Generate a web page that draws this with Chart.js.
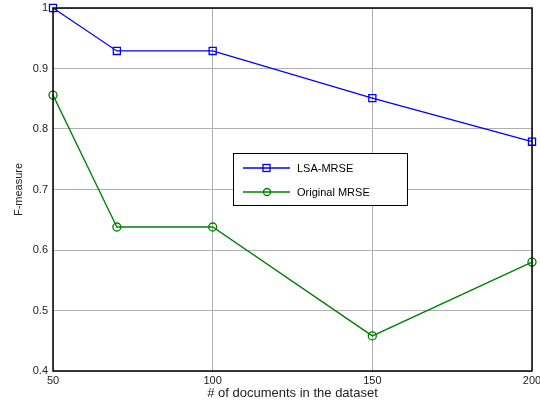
<!DOCTYPE html>
<html lang="en">
<head>
  <meta charset="UTF-8" />
  <title>F-measure vs documents</title>
  <script src="https://cdn.jsdelivr.net/npm/chart.js@4.4.0/dist/chart.umd.min.js"></script>
  <style>
    body { margin: 0; background: #fff; }
    #wrap { width: 540px; height: 403px; }
  </style>
</head>
<body>
  <div id="wrap"><canvas id="c"></canvas></div>
  <script>
    const docCounts = [50, 70, 100, 150, 200];
    const lsaMrse = [1.0, 0.929, 0.929, 0.851, 0.779];
    const originalMrse = [0.856, 0.638, 0.638, 0.458, 0.580];
    const xTicks = [50, 100, 150, 200];
    const yTicks = [0.4, 0.5, 0.6, 0.7, 0.8, 0.9, 1];

    const font = { family: 'Liberation Sans, Arial, sans-serif', size: 11 };

    // frame around plot + legend box inside the axes
    const framePlugin = {
      id: 'frame',
      afterDraw(chart) {
        const a = chart.chartArea;
        const ctx = chart.ctx;
        ctx.save();
        ctx.strokeStyle = '#000';
        ctx.lineWidth = 1.5;
        ctx.strokeRect(a.left, a.top, a.right - a.left, a.bottom - a.top);

        const lx = a.left + 180, ly = a.top + 145, lw = 174, lh = 52;
        ctx.fillStyle = '#fff';
        ctx.fillRect(lx, ly, lw, lh);
        ctx.lineWidth = 1;
        ctx.strokeRect(lx + 0.5, ly + 0.5, lw, lh);

        const rows = chart.data.datasets;
        ctx.font = font.size + 'px ' + font.family;
        ctx.textBaseline = 'middle';
        rows.forEach((ds, i) => {
          const y = ly + 15 + i * 24;
          ctx.strokeStyle = ds.borderColor;
          ctx.lineWidth = 1.3;
          ctx.beginPath();
          ctx.moveTo(lx + 10, y);
          ctx.lineTo(lx + 57, y);
          ctx.stroke();
          if (ds.pointStyle === 'rect') {
            ctx.strokeRect(lx + 30, y - 3.5, 7, 7);
          } else {
            ctx.beginPath();
            ctx.arc(lx + 34, y, 3.5, 0, Math.PI * 2);
            ctx.stroke();
          }
          ctx.fillStyle = '#000';
          ctx.fillText(ds.label, lx + 64, y + 1);
        });
        ctx.restore();
      }
    };

    new Chart(document.getElementById('c'), {
      type: 'line',
      data: {
        datasets: [
          {
            label: 'LSA-MRSE',
            data: docCounts.map((x, i) => ({ x, y: lsaMrse[i] })),
            borderColor: '#0000ff',
            backgroundColor: 'rgba(0,0,0,0)',
            borderWidth: 1.3,
            pointStyle: 'rect',
            pointRadius: 5,
            pointBorderWidth: 1.3,
            tension: 0,
            clip: false
          },
          {
            label: 'Original MRSE',
            data: docCounts.map((x, i) => ({ x, y: originalMrse[i] })),
            borderColor: '#008000',
            backgroundColor: 'rgba(0,0,0,0)',
            borderWidth: 1.3,
            pointStyle: 'circle',
            pointRadius: 4,
            pointBorderWidth: 1.3,
            tension: 0,
            clip: false
          }
        ]
      },
      options: {
        responsive: true,
        maintainAspectRatio: false,
        animation: false,
        layout: { padding: { top: 8, right: 8, left: 0, bottom: 0 } },
        plugins: { legend: { display: false }, tooltip: { enabled: false } },
        scales: {
          x: {
            type: 'linear',
            min: 50, max: 200,
            afterBuildTicks(s) { s.ticks = xTicks.map(v => ({ value: v })); },
            afterFit(s) { s.height = 32; s.paddingLeft = 0; s.paddingRight = 0; },
            grid: { color: '#b0b0b0', drawTicks: false },
            border: { display: false },
            ticks: { color: '#222', font, padding: 3, maxRotation: 0 },
            title: { display: true, text: '# of documents in the dataset', color: '#222',
                     font: { family: font.family, size: 13 }, padding: { top: 0, bottom: 2 } }
          },
          y: {
            min: 0.4, max: 1,
            afterBuildTicks(s) { s.ticks = yTicks.map(v => ({ value: v })); },
            afterFit(s) { s.width = 53; s.paddingTop = 0; s.paddingBottom = 0; },
            grid: { color: '#b0b0b0', drawTicks: false },
            border: { display: false },
            ticks: { color: '#222', font, padding: 5, callback: v => String(Math.round(v * 10) / 10) },
            title: { display: true, text: 'F-measure', color: '#222', font, padding: { top: 12, bottom: 4 } }
          }
        }
      },
      plugins: [framePlugin]
    });
  </script>
</body>
</html>
